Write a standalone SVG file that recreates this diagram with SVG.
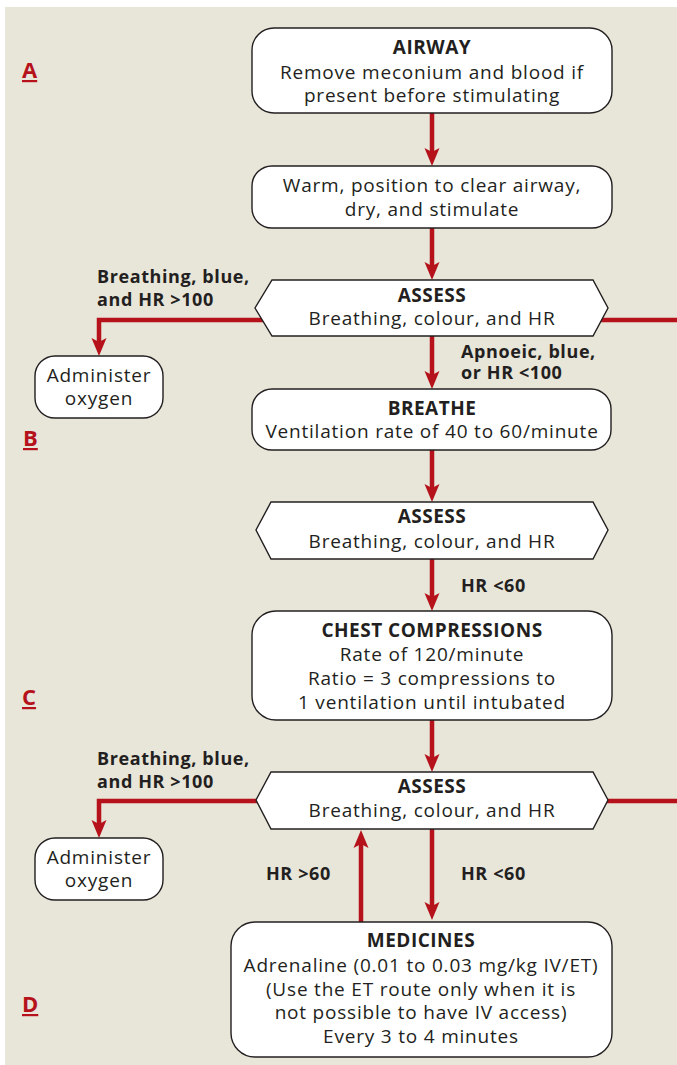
<svg xmlns="http://www.w3.org/2000/svg" width="677" height="1065" viewBox="0 0 677 1065">
<defs>
<style>
.bg{fill:#E8E5D9}
.node{fill:#fff;stroke:#231f20;stroke-width:1.4}
.t{font-family:"Open Sans","Noto Sans",sans-serif;font-size:19px;letter-spacing:0.8px;fill:#231f20;text-anchor:middle}
.h{font-weight:bold;letter-spacing:0.5px}
.lbl{font-family:"Open Sans","Noto Sans",sans-serif;font-size:18px;letter-spacing:0.6px;font-weight:bold;fill:#231f20}
.sec{font-family:"Open Sans","Noto Sans",sans-serif;font-size:22px;font-weight:bold;fill:#B5121B;text-decoration:underline}
.c{fill:none;stroke:#B5121B;stroke-width:4.5}
</style>
<marker id="ah" markerUnits="userSpaceOnUse" markerWidth="18" markerHeight="16" viewBox="0 0 18 16" refX="4" refY="8" orient="auto">
<path d="M0,0.5 L18,8 L0,15.5 L4,8 z" fill="#B5121B"/>
</marker>
</defs>
<rect class="bg" x="5" y="7" width="672" height="1058"/>

<g id="section-labels">
<text class="sec" x="22" y="78">A</text>
<text class="sec" x="23" y="446">B</text>
<text class="sec" x="22" y="705">C</text>
<text class="sec" x="22" y="1012">D</text>
</g>

<g id="connectors">
<line class="c" x1="432" y1="113" x2="432" y2="152" marker-end="url(#ah)"/>
<line class="c" x1="432" y1="228" x2="432" y2="266" marker-end="url(#ah)"/>
<line class="c" x1="432" y1="336" x2="432" y2="375" marker-end="url(#ah)"/>
<line class="c" x1="432" y1="450" x2="432" y2="488" marker-end="url(#ah)"/>
<line class="c" x1="432" y1="559" x2="432" y2="597" marker-end="url(#ah)"/>
<line class="c" x1="432" y1="720" x2="432" y2="758" marker-end="url(#ah)"/>
<line class="c" x1="432" y1="829" x2="432" y2="906" marker-end="url(#ah)"/>
<line class="c" x1="361" y1="922" x2="361" y2="844" marker-end="url(#ah)"/>
<polyline class="c" points="264,320 99,320 99,342" marker-end="url(#ah)"/>
<polyline class="c" points="258,801 99,801 99,824" marker-end="url(#ah)"/>
<line class="c" x1="600" y1="320" x2="677" y2="320"/>
<line class="c" x1="607" y1="801" x2="677" y2="801"/>
<text class="lbl" x="97" y="283">Breathing, blue,</text>
<text class="lbl" x="97" y="306">and HR &gt;100</text>
<text class="lbl" x="461" y="358">Apnoeic, blue,</text>
<text class="lbl" x="461" y="379">or HR &lt;100</text>
<text class="lbl" x="461" y="592">HR &lt;60</text>
<text class="lbl" x="97" y="765">Breathing, blue,</text>
<text class="lbl" x="97" y="788">and HR &gt;100</text>
<text class="lbl" x="266" y="880">HR &gt;60</text>
<text class="lbl" x="461" y="880">HR &lt;60</text>
</g>

<g id="airway">
<rect class="node" x="252" y="28" width="360" height="85" rx="22"/>
<text class="t h" x="432" y="54">AIRWAY</text>
<text class="t" x="432" y="79">Remove meconium and blood if</text>
<text class="t" x="432" y="102">present before stimulating</text>
</g>

<g id="warm">
<rect class="node" x="252" y="166" width="360" height="62" rx="20"/>
<text class="t" x="432" y="192">Warm, position to clear airway,</text>
<text class="t" x="432" y="216">dry, and stimulate</text>
</g>

<g id="assess1">
<polygon class="node" points="272,280 593,280 608,308 593,336 272,336 255,308"/>
<text class="t h" x="432" y="302">ASSESS</text>
<text class="t" x="432" y="325">Breathing, colour, and HR</text>
</g>

<g id="oxygen1">
<rect class="node" x="35" y="356" width="128" height="62" rx="20"/>
<text class="t" x="99" y="382">Administer</text>
<text class="t" x="99" y="405">oxygen</text>
</g>

<g id="breathe">
<rect class="node" x="252" y="389" width="359" height="61" rx="20"/>
<text class="t h" x="432" y="415">BREATHE</text>
<text class="t" x="432" y="438">Ventilation rate of 40 to 60/minute</text>
</g>

<g id="assess2">
<polygon class="node" points="271,502 593,502 608,530 593,559 271,559 256,530"/>
<text class="t h" x="432" y="523">ASSESS</text>
<text class="t" x="432" y="548">Breathing, colour, and HR</text>
</g>

<g id="compressions">
<rect class="node" x="252" y="611" width="360" height="109" rx="24"/>
<text class="t h" x="432" y="637">CHEST COMPRESSIONS</text>
<text class="t" x="432" y="661">Rate of 120/minute</text>
<text class="t" x="432" y="685">Ratio = 3 compressions to</text>
<text class="t" x="432" y="709">1 ventilation until intubated</text>
</g>

<g id="assess3">
<polygon class="node" points="271,772 593,772 608,800 593,829 271,829 256,800"/>
<text class="t h" x="432" y="793">ASSESS</text>
<text class="t" x="432" y="817">Breathing, colour, and HR</text>
</g>

<g id="oxygen2">
<rect class="node" x="35" y="838" width="128" height="62" rx="20"/>
<text class="t" x="99" y="864">Administer</text>
<text class="t" x="99" y="887">oxygen</text>
</g>

<g id="medicines">
<rect class="node" x="231" y="922" width="381" height="135" rx="24"/>
<text class="t h" x="421" y="947">MEDICINES</text>
<text class="t" x="421" y="972">Adrenaline (0.01 to 0.03 mg/kg IV/ET)</text>
<text class="t" x="421" y="996">(Use the ET route only when it is</text>
<text class="t" x="421" y="1019">not possible to have IV access)</text>
<text class="t" x="421" y="1043">Every 3 to 4 minutes</text>
</g>
</svg>
